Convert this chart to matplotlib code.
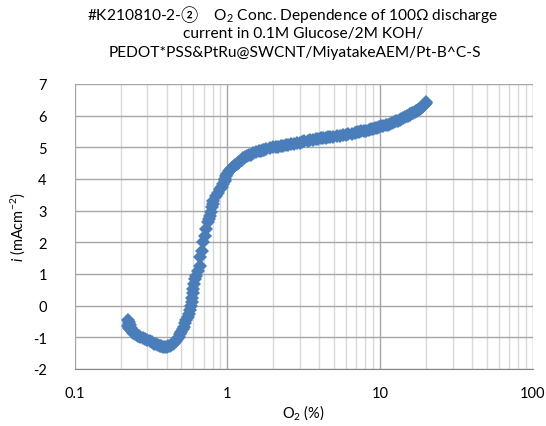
import matplotlib
matplotlib.use('Agg')
import matplotlib.pyplot as plt
from matplotlib.ticker import FixedLocator, LogLocator, NullFormatter

plt.rcParams['font.family'] = ['Lato', 'Noto Sans CJK JP', 'DejaVu Sans']
plt.rcParams['mathtext.fontset'] = 'custom'
plt.rcParams['mathtext.rm'] = 'Lato'
plt.rcParams['mathtext.it'] = 'Lato:italic'
plt.rcParams['axes.unicode_minus'] = False

# O2 concentration (%) and discharge current density (mA/cm2)
o2 = [0.225, 0.226, 0.227, 0.225, 0.228, 0.230, 0.232, 0.235, 0.238, 0.240,
      0.245, 0.250, 0.255, 0.260, 0.265, 0.270, 0.280, 0.290, 0.300, 0.310,
      0.320, 0.330, 0.340, 0.350, 0.360, 0.370, 0.380, 0.390, 0.400, 0.410,
      0.420, 0.430, 0.440, 0.450, 0.460, 0.470, 0.480, 0.490, 0.500, 0.510,
      0.520, 0.530, 0.540, 0.550, 0.560, 0.570, 0.580, 0.585, 0.590, 0.600,
      0.600, 0.605, 0.615, 0.625, 0.640, 0.660, 0.665, 0.680, 0.695, 0.710,
      0.730, 0.750, 0.760, 0.770, 0.780, 0.790, 0.800, 0.810, 0.840, 0.870,
      0.900, 0.920, 0.940, 0.960, 0.970, 0.985, 1.00, 1.03, 1.06, 1.08,
      1.10, 1.13, 1.15, 1.18, 1.20, 1.24, 1.27, 1.31, 1.35, 1.39,
      1.42, 1.48, 1.55, 1.60, 1.65, 1.70, 1.75, 1.80, 1.90, 2.00,
      2.08, 2.15, 2.24, 2.33, 2.42, 2.50, 2.62, 2.75, 2.87, 3.00,
      3.10, 3.20, 3.35, 3.50, 3.65, 3.80, 3.95, 4.10, 4.25, 4.40,
      4.55, 4.70, 4.95, 5.20, 5.45, 5.70, 5.95, 6.20, 6.50, 6.80,
      7.05, 7.30, 7.55, 7.80, 8.10, 8.40, 8.70, 9.00, 9.30, 9.60,
      9.90, 10.2, 10.5, 10.9, 11.2, 11.6, 12.0, 12.3, 12.7, 13.0,
      13.4, 13.8, 14.2, 14.6, 15.0, 15.3, 15.6, 15.8, 16.2, 16.5,
      16.9, 17.2, 17.5, 17.8, 18.1, 18.3, 18.6, 18.8, 19.0, 19.2,
      19.4, 19.5, 19.7, 19.8, 19.9, 20.0]
current = [-0.45, -0.52, -0.58, -0.65, -0.70, -0.75, -0.62, -0.72, -0.80, -0.85,
           -0.82, -0.90, -0.93, -0.96, -0.95, -1.00, -1.03, -1.05, -1.08, -1.12,
           -1.15, -1.20, -1.22, -1.25, -1.27, -1.28, -1.30, -1.30, -1.30, -1.28,
           -1.27, -1.25, -1.22, -1.18, -1.12, -1.05, -0.98, -0.90, -0.82, -0.75,
           -0.66, -0.55, -0.45, -0.35, -0.25, -0.15, -0.02, 0.10, 0.25, 0.40,
           0.53, 0.68, 0.85, 0.95, 1.10, 1.26, 1.53, 1.74, 2.00, 2.21,
           2.42, 2.63, 2.75, 2.84, 2.95, 3.10, 3.20, 3.32, 3.45, 3.55,
           3.68, 3.76, 3.85, 3.93, 4.00, 4.08, 4.15, 4.25, 4.32, 4.36,
           4.40, 4.45, 4.48, 4.52, 4.55, 4.61, 4.66, 4.70, 4.72, 4.75,
           4.77, 4.81, 4.84, 4.87, 4.89, 4.91, 4.93, 4.94, 4.97, 5.00,
           5.01, 5.02, 5.04, 5.05, 5.07, 5.08, 5.10, 5.12, 5.14, 5.15,
           5.17, 5.19, 5.20, 5.22, 5.23, 5.25, 5.26, 5.28, 5.29, 5.30,
           5.31, 5.32, 5.34, 5.35, 5.37, 5.38, 5.40, 5.41, 5.43, 5.45,
           5.47, 5.48, 5.50, 5.51, 5.53, 5.55, 5.57, 5.58, 5.60, 5.62,
           5.64, 5.66, 5.68, 5.70, 5.72, 5.74, 5.77, 5.79, 5.82, 5.84,
           5.87, 5.89, 5.92, 5.95, 5.98, 6.00, 6.02, 6.04, 6.07, 6.09,
           6.12, 6.14, 6.16, 6.18, 6.20, 6.22, 6.25, 6.27, 6.29, 6.31,
           6.33, 6.35, 6.37, 6.38, 6.40, 6.42]

x_ticks = [0.1, 1, 10, 100]
x_tick_labels = ['0.1', '1', '10', '100']
y_ticks = [-2, -1, 0, 1, 2, 3, 4, 5, 6, 7]

fig = plt.figure(figsize=(5.46, 4.27), dpi=100)
ax = fig.add_axes([0.1365, 0.1335, 0.8395, 0.6675])

ax.plot(o2, current, linestyle='none', marker='D', markersize=7.2,
        color='#4a7ebb', markeredgewidth=0, zorder=3)

ax.set_xscale('log')
ax.set_xlim(0.1, 100)
ax.set_ylim(-2, 7)
ax.xaxis.set_major_locator(FixedLocator(x_ticks))
ax.set_xticklabels(x_tick_labels)
ax.xaxis.set_minor_locator(LogLocator(base=10, subs=range(2, 10)))
ax.xaxis.set_minor_formatter(NullFormatter())
ax.set_yticks(y_ticks)

ax.grid(which='major', color='#a6a6a6', linewidth=1.0)
ax.grid(which='minor', axis='x', color='#d9d9d9', linewidth=1.0)
ax.set_axisbelow(True)
for side in ['left', 'right', 'top']:
    ax.spines[side].set_visible(False)
ax.spines['bottom'].set_color('#868686')
ax.tick_params(which='both', length=0, labelsize=10.5, colors='#000000', pad=12)
ax.tick_params(axis='y', pad=20)

ax.set_xlabel('O$_2$ (%)', fontsize=10.5, labelpad=2)
ax.set_ylabel('$i$ (mAcm$^{-2}$)', fontsize=10.5, labelpad=4)

# three-line title above the plot area
fig.text(0.535, 0.965, '#K210810-2-②    O$_2$ Conc. Dependence of 100Ω discharge',
         ha='center', va='center', fontsize=11.2)
fig.text(0.555, 0.920, 'current in 0.1M Glucose/2M KOH/',
         ha='center', va='center', fontsize=11.2)
fig.text(0.540, 0.876, 'PEDOT*PSS&PtRu@SWCNT/MiyatakeAEM/Pt-B^C-S',
         ha='center', va='center', fontsize=11.2)

fig.savefig('out.png', dpi=100)
